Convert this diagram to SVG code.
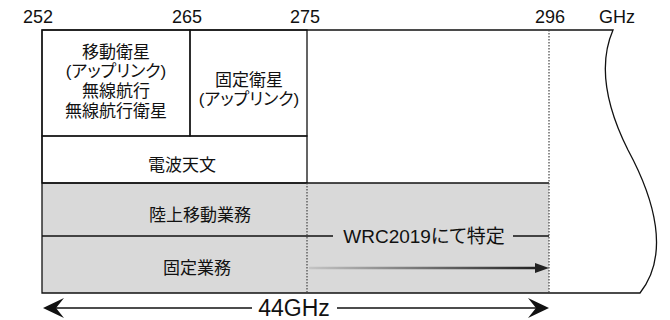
<svg xmlns="http://www.w3.org/2000/svg" width="670" height="320" viewBox="0 0 670 320">
<style>
text{font-family:"Liberation Sans","Noto Sans CJK JP",Arial,sans-serif;fill:#111;text-anchor:middle;font-feature-settings:"palt"}
.ax{font-size:18px}
.lb{font-size:17px}
.ln{stroke:#111;stroke-width:1.3;fill:none}
.dot{stroke:#444;stroke-width:1.2;stroke-dasharray:1.5 1.5;fill:none}
</style>
<defs>
<linearGradient id="g" gradientUnits="userSpaceOnUse" x1="309" y1="0" x2="537" y2="0">
<stop offset="0" stop-color="#c4c4c4"/>
<stop offset="1" stop-color="#222"/>
</linearGradient>
</defs>
<g id="axis">
<text class="ax" x="38" y="23">252</text>
<text class="ax" x="187" y="23">265</text>
<text class="ax" x="305" y="23">275</text>
<text class="ax" x="550" y="23">296</text>
<text class="ax" x="617" y="23">GHz</text>
</g>
<g id="band-grey">
<rect x="42" y="183" width="507" height="110" fill="#d9d9d9"/>
</g>
<g id="frame">
<path class="ln" d="M42,30 H613 C600,60 603,100 628,150 C655,200 670,255 640,293 H42 Z"/>
</g>
<g id="cell-mobile-sat">
<rect x="42" y="30" width="148" height="106" class="ln"/>
<text class="lb" x="116" y="58">移動衛星</text>
<text class="lb" x="116" y="77">(アップリンク)</text>
<text class="lb" x="116" y="97">無線航行</text>
<text class="lb" x="116" y="117">無線航行衛星</text>
</g>
<g id="cell-fixed-sat">
<rect x="190" y="30" width="117" height="106" class="ln"/>
<text class="lb" x="249" y="86">固定衛星</text>
<text class="lb" x="249" y="105">(アップリンク)</text>
</g>
<g id="cell-radio-astro">
<rect x="42" y="136" width="265" height="47" class="ln"/>
<text class="lb" x="182" y="171">電波天文</text>
</g>
<g id="cell-land-mobile">
<line x1="42" y1="183" x2="549" y2="183" class="ln"/>
<text class="lb" x="200" y="221">陸上移動業務</text>
</g>
<g id="cell-fixed">
<line x1="42" y1="236" x2="333" y2="236" class="ln"/>
<text class="lb" x="197" y="274">固定業務</text>
</g>
<g id="connectors">
<line x1="307" y1="183" x2="307" y2="293" class="dot"/>
<line x1="549" y1="30" x2="549" y2="293" class="dot"/>
<line x1="513" y1="236" x2="549" y2="236" class="ln"/>
<text x="424" y="243" style="font-size:19px">WRC2019にて特定</text>
<line x1="309" y1="268" x2="537" y2="268" stroke="url(#g)" stroke-width="2.5"/>
<polygon points="549,268 535,263 535,273" fill="#222"/>
<line x1="55" y1="308" x2="252" y2="308" class="ln"/>
<line x1="337" y1="308" x2="538" y2="308" class="ln"/>
<polygon points="43,308 64,298 56,308 64,318" fill="#111"/>
<polygon points="549,308 528,298 536,308 528,318" fill="#111"/>
<text x="294" y="316" style="font-size:23px">44GHz</text>
</g>
</svg>
